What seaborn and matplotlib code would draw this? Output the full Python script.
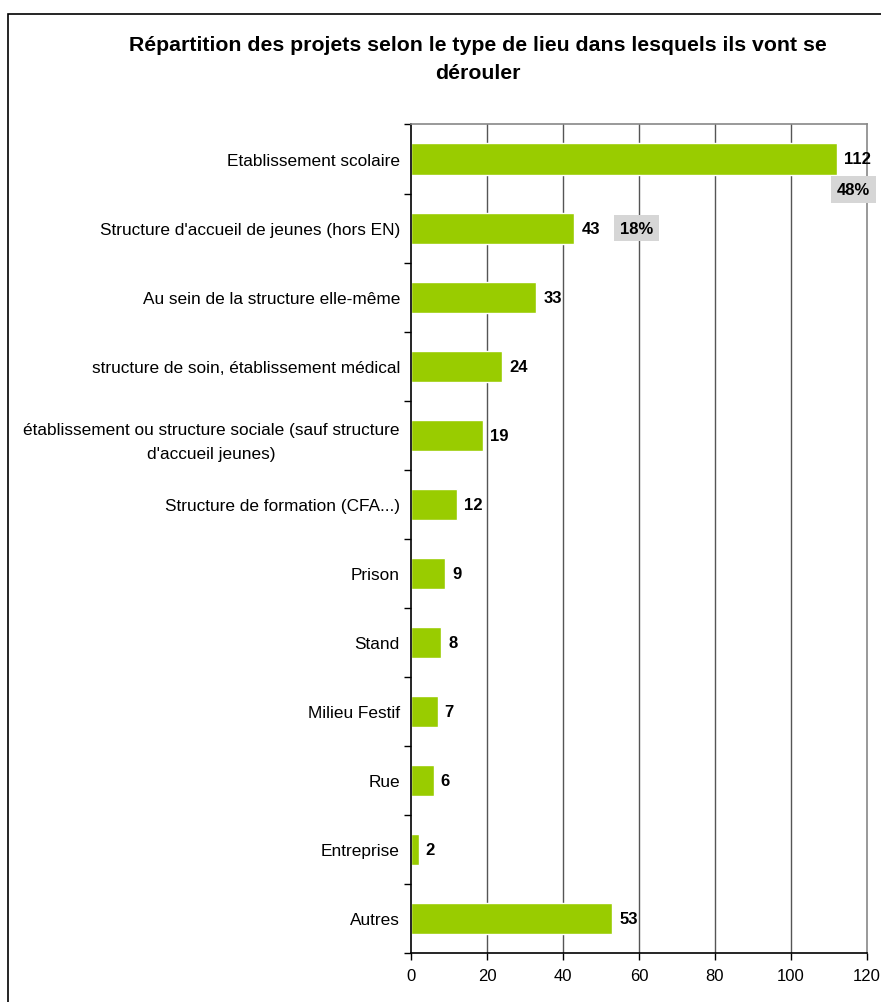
import matplotlib
import matplotlib.pyplot as plt
import pandas as pd
import seaborn as sns
from matplotlib.patches import Rectangle

matplotlib.use("Agg")

CATEGORIES = [
    "Etablissement scolaire",
    "Structure d'accueil de jeunes (hors EN)",
    "Au sein de la structure elle-même",
    "structure de soin, établissement médical",
    "établissement ou structure sociale (sauf structure\nd'accueil jeunes)",
    "Structure de formation (CFA...)",
    "Prison",
    "Stand",
    "Milieu Festif",
    "Rue",
    "Entreprise",
    "Autres",
]
VALUES = [112, 43, 33, 24, 19, 12, 9, 8, 7, 6, 2, 53]
PCT_LABELS = {0: "48%", 1: "18%"}
X_TICKS = [0, 20, 40, 60, 80, 100, 120]

GREEN = "#99CC00"

sns.set_theme(style="white")
plt.rcParams["font.family"] = ["Liberation Sans", "DejaVu Sans"]
plt.rcParams["text.color"] = "black"
plt.rcParams["xtick.color"] = "black"
plt.rcParams["ytick.color"] = "black"

df = pd.DataFrame({"lieu": CATEGORIES, "n": VALUES})

fig = plt.figure(figsize=(8.81, 10.03), dpi=100)
ax = fig.add_axes([0.4665, 0.0489, 0.5176, 0.826])

sns.barplot(data=df, y="lieu", x="n", orient="h", color=GREEN,
            saturation=1, width=0.45, ax=ax)

ax.set_xlim(0, 120)
ax.set_ylim(len(CATEGORIES) - 0.5, -0.5)
ax.set_xticks(X_TICKS)
ax.set_xticklabels([str(t) for t in X_TICKS], fontsize=12)
ax.set_xlabel("")
ax.set_ylabel("")

# y ticks at category boundaries (Excel style), labels at centres
ax.set_yticks([i for i in range(len(CATEGORIES))])
ax.set_yticklabels(CATEGORIES, fontsize=12.4, multialignment="center",
                   linespacing=1.75)
ax.tick_params(axis="y", length=0, pad=8)
ax.set_yticks([i - 0.5 for i in range(len(CATEGORIES) + 1)], minor=True)
ax.tick_params(axis="y", which="minor", length=5, width=1, color="black",
               direction="out", left=True)
ax.tick_params(axis="x", length=5, width=1, color="black", direction="out",
               bottom=True, pad=6)

for x in X_TICKS[1:-1]:
    ax.axvline(x, color="#555555", linewidth=1, zorder=0)

for side in ("left", "bottom"):
    ax.spines[side].set_color("black")
    ax.spines[side].set_linewidth(1.2)
for side in ("top", "right"):
    ax.spines[side].set_color("#888888")
    ax.spines[side].set_linewidth(1.2)

for i, v in enumerate(VALUES):
    ax.annotate(str(v), (v, i), xytext=(5, 0), textcoords="offset points",
                va="center", ha="left", fontsize=12, fontweight="bold")

box = dict(boxstyle="square,pad=0.35", facecolor="#d6d6d6", edgecolor="none")
ax.annotate(PCT_LABELS[0], (112, 0), xytext=(12, -22), textcoords="offset points",
            va="center", ha="center", fontsize=12, fontweight="bold", bbox=box,
            annotation_clip=False)
ax.annotate(PCT_LABELS[1], (43, 1), xytext=(45, 0), textcoords="offset points",
            va="center", ha="center", fontsize=12, fontweight="bold", bbox=box)

fig.text(0.542, 0.941,
         "Répartition des projets selon le type de lieu dans lesquels ils vont se\ndérouler",
         ha="center", va="center", fontsize=15.3, fontweight="bold",
         linespacing=1.6)

fig.patches.append(Rectangle((8 / 881, -0.01), 1.02, 1 - 15 / 1003 + 0.01,
                             transform=fig.transFigure, fill=False,
                             edgecolor="black", linewidth=1.2))

fig.savefig("out.png", dpi=100)
